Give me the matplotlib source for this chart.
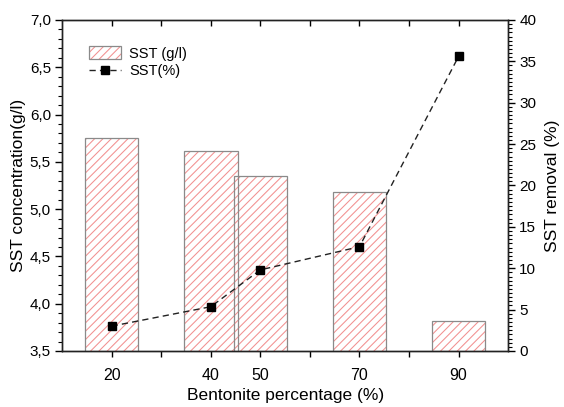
import matplotlib
matplotlib.use('Agg')
import matplotlib.pyplot as plt
from matplotlib.ticker import FixedLocator, MultipleLocator, FuncFormatter
from matplotlib.legend_handler import HandlerTuple

plt.rcParams['font.family'] = ['Liberation Sans', 'DejaVu Sans']
plt.rcParams['hatch.linewidth'] = 0.75

# data
bentonite = [20, 40, 50, 70, 90]
sst_conc = [5.75, 5.61, 5.35, 5.18, 3.82]     # g/l, left axis
sst_removal = [3.0, 5.35, 9.8, 12.6, 35.6]    # %, right axis
xtick_labels = ['20', '40', '50', '70', '90']

fig = plt.figure(figsize=(5.64, 4.07), dpi=100)
ax = fig.add_axes([0.110, 0.1376, 0.791, 0.8133])

# hatched fill, then grey outline on top
hatch_bars = ax.bar(bentonite, sst_conc, width=10.8, bottom=0, color='white',
                    edgecolor='#f29090', hatch='////', linewidth=0)
edge_bars = ax.bar(bentonite, sst_conc, width=10.8, bottom=0, fill=False,
                   edgecolor='#8a8a8a', linewidth=0.9)
ax.set_xlim(10, 100)
ax.set_ylim(3.5, 7.0)

ax.xaxis.set_major_locator(FixedLocator(bentonite))
ax.set_xticklabels(xtick_labels)
ax.xaxis.set_minor_locator(FixedLocator([30, 60, 80]))
ax.yaxis.set_major_locator(MultipleLocator(0.5))
ax.yaxis.set_minor_locator(MultipleLocator(0.1))
ax.yaxis.set_major_formatter(FuncFormatter(lambda v, p: f'{v:.1f}'.replace('.', ',')))

ax.tick_params(axis='y', which='major', direction='out', length=5, width=1, labelsize=11, pad=3)
ax.tick_params(axis='y', which='minor', direction='out', length=3, width=0.8)
ax.tick_params(axis='x', which='both', direction='out', length=4, width=1, labelsize=11.5,
               pad=8, top=True)

ax.set_ylabel('SST concentration(g/l)', fontsize=12.5, labelpad=3)
ax.set_xlabel('Bentonite percentage (%)', fontsize=12.5, labelpad=4)

ax2 = ax.twinx()
line, = ax2.plot(bentonite, sst_removal, color='#222222', linestyle=(0, (4.5, 3)),
                 linewidth=1, marker='s', markersize=6, markerfacecolor='black',
                 markeredgecolor='black')
ax2.set_ylim(0, 40)
ax2.yaxis.set_major_locator(MultipleLocator(5))
ax2.yaxis.set_minor_locator(MultipleLocator(0.5))
ax2.tick_params(axis='y', which='major', direction='out', length=5, width=1, labelsize=11, pad=3)
ax2.tick_params(axis='y', which='minor', direction='out', length=3, width=0.8)
ax2.set_ylabel('SST removal (%)', fontsize=12.5, labelpad=6)

# top ticks point inward
for t in ax.xaxis.get_ticklines(minor=False)[1::2] + ax.xaxis.get_ticklines(minor=True)[1::2]:
    t.set_marker(3)

for a in (ax, ax2):
    for s in a.spines.values():
        s.set_linewidth(1)
        s.set_color('#222222')

ax.legend([(hatch_bars[0], edge_bars[0]), line], ['SST (g/l)', 'SST(%)'],
          handler_map={tuple: HandlerTuple(ndivide=1)},
          loc='upper left', bbox_to_anchor=(0.03, 0.96), frameon=False,
          fontsize=10.5, handlelength=2.2, handleheight=1.0, handletextpad=0.6,
          labelspacing=0.2)

fig.savefig('out.png', dpi=100)
